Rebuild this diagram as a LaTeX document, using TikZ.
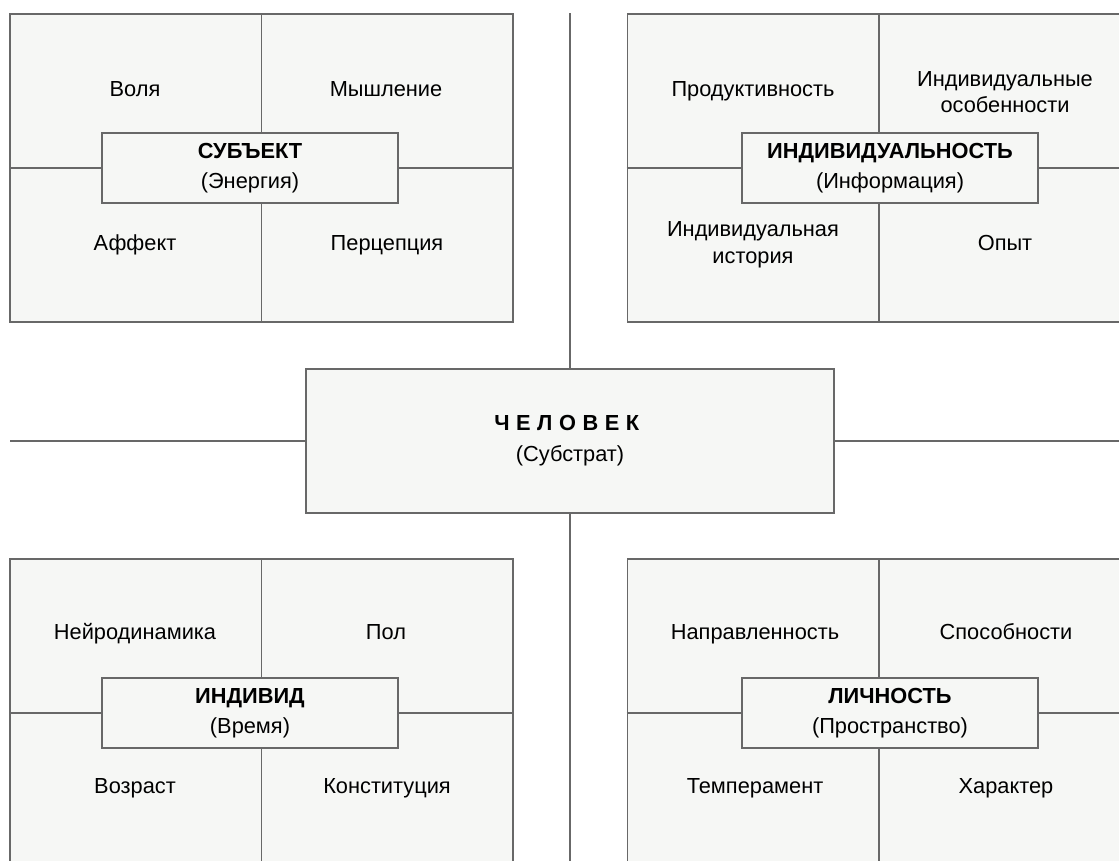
\documentclass[tikz,border=0pt]{standalone}
\usepackage{fontspec}
\setmainfont{Liberation Sans}
\usetikzlibrary{positioning}
\definecolor{boxfill}{HTML}{F6F7F5}
\definecolor{linegray}{HTML}{686868}
\tikzset{
  quad/.style={
    rectangle, draw=linegray, fill=boxfill, line width=1.3pt,
    minimum width=12.575cm, minimum height=7.7cm, inner sep=0pt
  },
  tag/.style={
    rectangle, draw=linegray, fill=boxfill, line width=1.3pt,
    minimum width=7.4cm, minimum height=1.75cm, inner sep=0pt,
    align=center, font=\fontsize{15.5}{21}\selectfont
  },
  core/.style={
    rectangle, draw=linegray, fill=boxfill, line width=1.3pt,
    minimum width=13.2cm, minimum height=3.6cm, inner sep=0pt,
    align=center, font=\fontsize{15.5}{22}\selectfont
  },
  cell/.style={align=center, font=\fontsize{15.5}{19}\selectfont},
  word/.style={cell, text height=11pt, text depth=3.5pt},
  wire/.style={draw=linegray, line width=1.3pt}
}

\begin{document}
\begin{tikzpicture}[x=0.025cm, y=-0.025cm]
\useasboundingbox (0,0) rectangle (1119,861);
\clip (0,0) rectangle (1119,861);
\fill[white] (0,0) rectangle (1119,861);

% axes through the centre
\coordinate (topend) at (570,13);
\coordinate (botend) at (570,870);
\coordinate (leftend) at (10,441);
\coordinate (rightend) at (1125,441);
\node[core] (man) at (570,441) {\textbf{\addfontfeature{LetterSpace=30}ЧЕЛОВЕК}\\(Субстрат)};
\draw[wire] (topend) -- (man.north);
\draw[wire] (man.south) -- (botend);
\draw[wire] (leftend) -- (man.west);
\draw[wire] (man.east) -- (rightend);

% quadrants
\node[quad] (subj) at (261.5,168) {};
\node[quad] (indiv) at (879,168) {};
\node[quad] (ind) at (261.5,713) {};
\node[quad] (pers) at (879,713) {};
\foreach \q in {subj,indiv,ind,pers}{
  \draw[wire] (\q.north) -- (\q.south);
  \draw[wire] (\q.west) -- (\q.east);
}

\node[tag] (subjtag) at (250,168) {\textbf{СУБЪЕКТ}\\(Энергия)};
\node[tag] (indivtag) at (890,168) {\textbf{ИНДИВИДУАЛЬНОСТЬ}\\(Информация)};
\node[tag] (indtag) at (250,713) {\textbf{ИНДИВИД}\\(Время)};
\node[tag] (perstag) at (890,713) {\textbf{ЛИЧНОСТЬ}\\(Пространство)};

\node[word] (volya) at (135,91) {Воля};
\node[word] (myshl) at (386,91) {Мышление};
\node[word] (affekt) at (135,245) {Аффект};
\node[word] (perc) at (387,245) {Перцепция};

\node[word] (prod) at (753,91) {Продуктивность};
\node[cell] (osob) at (1005,92) {Индивидуальные\\особенности};
\node[cell] (istor) at (753,245) {Индивидуальная\\история};
\node[word] (opyt) at (1005,245) {Опыт};

\node[word] (neuro) at (135,634) {Нейродинамика};
\node[word] (pol) at (386,634) {Пол};
\node[word] (vozr) at (135,788) {Возраст};
\node[word] (konst) at (387,788) {Конституция};

\node[word] (napr) at (755,634) {Направленность};
\node[word] (spos) at (1006,634) {Способности};
\node[word] (temp) at (755,788) {Темперамент};
\node[word] (char) at (1006,788) {Характер};
\end{tikzpicture}
\end{document}
